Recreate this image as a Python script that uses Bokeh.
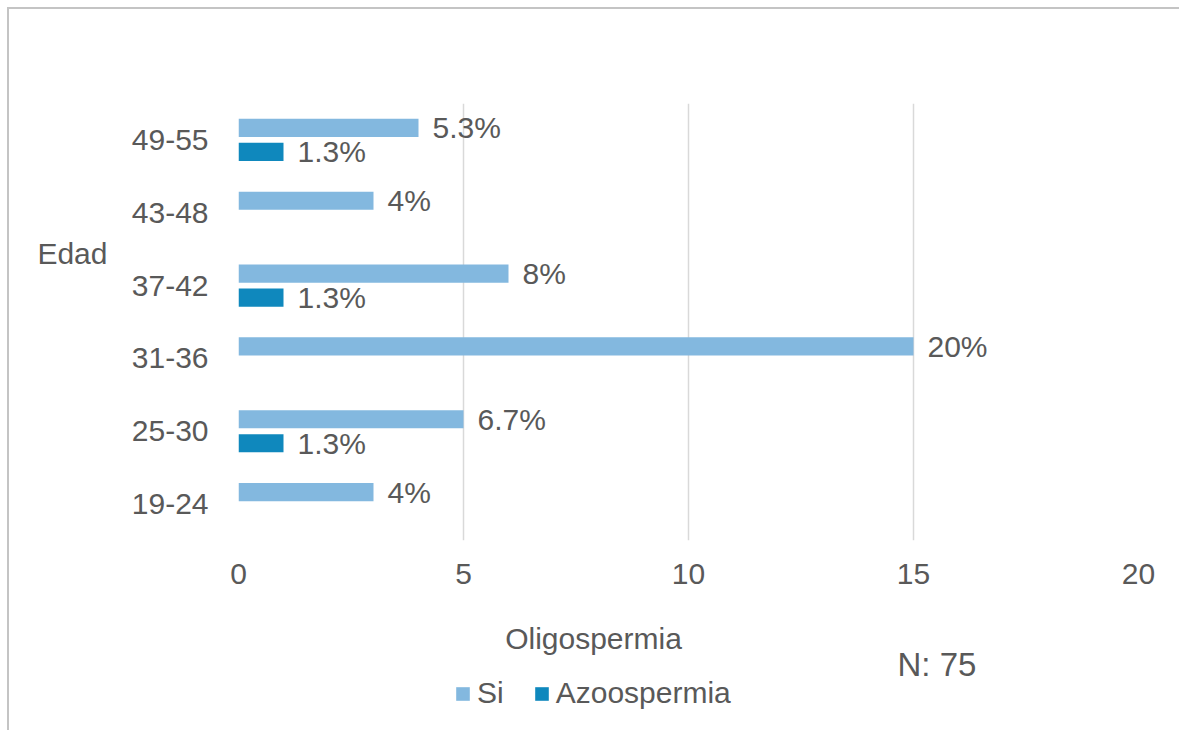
from bokeh.plotting import figure
from bokeh.layouts import column
from bokeh.models import (ColumnDataSource, Range1d, FixedTicker,
                          LabelSet, Label, Legend, LegendItem, LinearAxis)
from bokeh.core.properties import value
from bokeh.transform import dodge
from bokeh.embed import file_html
from bokeh.resources import INLINE

# ---- data ----
edad = ["19-24", "25-30", "31-36", "37-42", "43-48", "49-55"]
si = [3, 5, 15, 6, 3, 4]
azoospermia = [0, 1, 0, 1, 0, 1]
si_labels = ["4%", "6.7%", "20%", "8%", "4%", "5.3%"]
azoo_labels = ["", "1.3%", "", "1.3%", "", "1.3%"]
x_ticks = [0, 5, 10, 15, 20]
x_title = "Oligospermia"
y_title = "Edad"
note = "N: 75"
series_names = ["Si", "Azoospermia"]

TEXT = "#595959"
FONT = "Liberation Sans"
FS = "30px"
C_SI = "#83B8DF"
C_AZ = "#0F88BD"

pos = list(range(len(edad)))  # category slots, bottom to top
src = ColumnDataSource(dict(pos=pos, si=si, az=azoospermia,
                            si_lab=si_labels, az_lab=azoo_labels))

# ---- main chart ----
p = figure(width=1170, height=591, y_range=Range1d(-0.5, len(edad) - 0.5),
           x_range=Range1d(0, 20), output_backend="svg", toolbar_location=None,
           min_border_left=229, min_border_right=41, min_border_top=94,
           min_border_bottom=60)
p.outline_line_color = None
p.background_fill_color = "white"
p.border_fill_color = "white"

r_si = p.hbar(y=dodge("pos", 0.165), right="si", left=0, height=0.25,
              source=src, fill_color=C_SI, line_color=None)
r_az = p.hbar(y=dodge("pos", -0.165), right="az", left=0, height=0.25,
              source=src, fill_color=C_AZ, line_color=None)

for col, lab, off in (("si", "si_lab", 0.165), ("az", "az_lab", -0.165)):
    ls = LabelSet(x=col, y=dodge("pos", off), text=lab, source=src,
                  x_offset=14, text_baseline="middle", text_align="left",
                  text_font=value(FONT), text_font_size=value(FS), text_color=value(TEXT))
    p.add_layout(ls)

p.xaxis.ticker = FixedTicker(ticks=x_ticks)
p.yaxis.ticker = FixedTicker(ticks=pos)
p.yaxis.major_label_overrides = {i: name for i, name in zip(pos, edad)}
for ax in (p.xaxis[0], p.yaxis[0]):
    ax.axis_line_color = None
    ax.major_tick_line_color = None
    ax.minor_tick_line_color = None
    ax.major_tick_out = 0
    ax.major_tick_in = 0
    ax.minor_tick_out = 0
    ax.major_label_text_font = FONT
    ax.major_label_text_font_size = FS
    ax.major_label_text_color = TEXT
p.xaxis.major_label_standoff = 23
p.yaxis.major_label_standoff = 30

p.xgrid.grid_line_color = "#d9d9d9"
p.xgrid.grid_line_width = 1.5
p.ygrid.grid_line_color = None

# "Edad": horizontal title left of the category labels (an extra left axis)
p.extra_y_ranges = {"edad_title": Range1d(-3.94, 2.06)}
title_axis = LinearAxis(y_range_name="edad_title", ticker=FixedTicker(ticks=[0]),
                        major_label_overrides={0: y_title},
                        axis_line_color=None, major_tick_line_color=None,
                        minor_tick_line_color=None, major_tick_out=0, major_tick_in=0,
                        minor_tick_out=0, major_label_standoff=21,
                        major_label_text_font=FONT, major_label_text_font_size=FS,
                        major_label_text_color=TEXT)
p.add_layout(title_axis, "left")

# ---- bottom strip: axis title, legend and sample size ----
q = figure(width=1170, height=130, x_range=Range1d(0, 1), y_range=Range1d(0, 1),
           x_axis_type=None, y_axis_type=None, output_backend="svg",
           toolbar_location=None, min_border=0)
q.outline_line_color = None
q.xgrid.visible = False
q.ygrid.visible = False
# legend swatches (kept outside the strip's visible range)
k_si = q.hbar(y=[-5], right=[1], left=0, height=0.2, fill_color=C_SI, line_color=None)
k_az = q.hbar(y=[-5], right=[1], left=0, height=0.2, fill_color=C_AZ, line_color=None)

legend = Legend(items=[LegendItem(label=series_names[0], renderers=[k_si]),
                       LegendItem(label=series_names[1], renderers=[k_az])],
                location=(216, 20), orientation="horizontal",
                background_fill_alpha=0, border_line_color=None,
                glyph_width=17, glyph_height=17, label_standoff=6, spacing=29,
                padding=0, margin=0,
                label_text_font=FONT, label_text_font_size=FS, label_text_color=TEXT)
q.add_layout(legend)

q.add_layout(Label(x=355, y=92, x_units="screen", y_units="screen", text=x_title,
                   text_font=FONT, text_font_size=FS, text_color=TEXT,
                   text_baseline="middle", text_align="center"))
q.add_layout(Label(x=659, y=66, x_units="screen", y_units="screen", text=note,
                   text_font=FONT, text_font_size="33px",
                   text_color=TEXT, text_baseline="middle", text_align="left"))

page = column(p, q, spacing=0,
              styles={"margin-left": "7px", "margin-top": "7px",
                      "border-left": "2px solid #c4c4c4",
                      "border-top": "2px solid #c4c4c4"})

open("out.html", "w").write(file_html(page, INLINE))
